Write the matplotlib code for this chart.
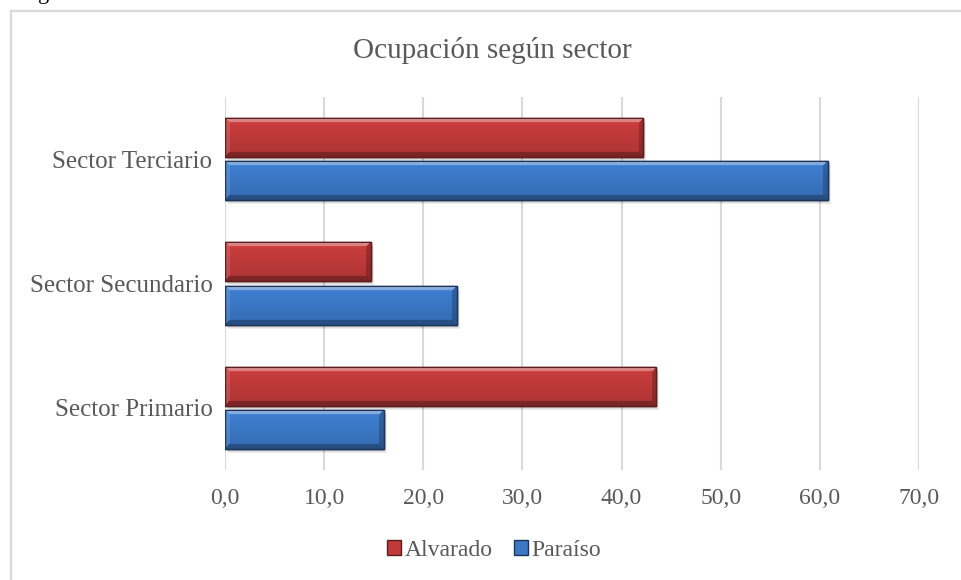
import matplotlib
matplotlib.use('Agg')
import matplotlib.pyplot as plt
import matplotlib.colors as mcolors
import numpy as np
from matplotlib.patches import Patch, Rectangle
from matplotlib.lines import Line2D
from matplotlib.transforms import offset_copy

plt.rcParams['font.family'] = ['Liberation Serif', 'DejaVu Serif']

# datos
sectores = ['Sector Primario', 'Sector Secundario', 'Sector Terciario']
series = ['Alvarado', 'Paraíso']
alvarado = [43.5, 14.7, 42.2]
paraiso = [16.0, 23.4, 60.8]
xticks = [0, 10, 20, 30, 40, 50, 60, 70]
titulo = 'Ocupación según sector'

W, H, DPI = 961, 580, 100
gray_txt = '#595959'
grid_col = '#D9D9D9'
rojo, rojo_borde = '#C03A3A', '#5E1B1B'
azul, azul_borde = '#3B78C6', '#1B3558'

fig = plt.figure(figsize=(W / DPI, H / DPI), dpi=DPI)
ax_l, ax_r, ax_t, ax_b = 225, 919, 97, 470
ax = fig.add_axes([ax_l / W, 1 - ax_b / H, (ax_r - ax_l) / W, (ax_b - ax_t) / H])
px_per_unit = (ax_r - ax_l) / (xticks[-1] - xticks[0])
px_per_cat = (ax_b - ax_t) / len(sectores)


def bevel(hexcol, w, h, b=5):
    c = np.array(mcolors.to_rgb(hexcol))
    y = np.arange(h)[:, None] * np.ones((1, w))
    x = np.ones((h, 1)) * np.arange(w)[None, :]
    shade = 1.07 - 0.17 * y / max(h - 1, 1)
    img = c[None, None, :] * shade[..., None]
    d = np.stack([y, h - 1 - y, x, w - 1 - x])
    side = d.argmin(0)
    near = d.min(0) < b
    mix = [((1, 1, 1), 0.35), ((0, 0, 0), 0.28), ((1, 1, 1), 0.12), ((0, 0, 0), 0.22)]
    for k, (col, a) in enumerate(mix):
        m = near & (side == k)
        img[m] = img[m] * (1 - a) + np.array(col) * a
    # thin bright line just below top edge
    img[1:3, 2:-2] = img[1:3, 2:-2] * 0.7 + 0.3
    return np.clip(img, 0, 1)


ypos = np.arange(len(sectores))
bh = 0.314
off = 0.175
for vals, dy, col, edge in [(alvarado, off, rojo, rojo_borde), (paraiso, -off, azul, azul_borde)]:
    bars = ax.barh(ypos + dy, vals, height=bh, color=col, edgecolor=edge, linewidth=1.0, zorder=3)
    for bar, v in zip(bars, vals):
        y0 = bar.get_y()
        # sombra
        for i, (ox, oy) in enumerate([(1, -2), (2, -3), (3, -4)]):
            tr = offset_copy(ax.transData, fig=fig, x=ox, y=oy, units='dots')
            ax.add_patch(Rectangle((0, y0), v, bh, transform=tr, color='black',
                                   alpha=0.07, lw=0, zorder=2))
        wpx = max(int(round(v * px_per_unit)), 2)
        hpx = max(int(round(bh * px_per_cat)), 2)
        im = ax.imshow(bevel(col, wpx, hpx), extent=(0, v, y0, y0 + bh), aspect='auto',
                       origin='upper', interpolation='bilinear', zorder=3.5)
        im.set_clip_path(bar)
    # outline on top
    ax.barh(ypos + dy, vals, height=bh, facecolor='none', edgecolor=edge, linewidth=1.0, zorder=4)

ax.set_xlim(xticks[0], xticks[-1])
ax.set_ylim(-0.5, len(sectores) - 0.5)
ax.set_aspect('auto')
ax.set_xticks(xticks)
ax.set_xticklabels([f'{t:.1f}'.replace('.', ',') for t in xticks])
ax.set_yticks(ypos)
ax.set_yticklabels(sectores)
ax.grid(axis='x', color=grid_col, linewidth=1.5, zorder=0)
ax.set_axisbelow(True)
for s in ax.spines.values():
    s.set_visible(False)
ax.tick_params(axis='x', length=0, pad=13, labelsize=17, labelcolor=gray_txt)
ax.tick_params(axis='y', length=0, pad=9, labelsize=18, labelcolor=gray_txt)

fig.text(492 / W, 1 - 58.5 / H, titulo, ha='center', va='baseline', fontsize=21, color=gray_txt)

handles = [Patch(facecolor=rojo, edgecolor=rojo_borde, label=series[0]),
           Patch(facecolor=azul, edgecolor=azul_borde, label=series[1])]
fig.legend(handles=handles, loc='center', bbox_to_anchor=(494 / W, 1 - 550 / H), ncol=2,
           frameon=False, fontsize=17, handlelength=0.6, handleheight=0.6,
           handletextpad=0.15, columnspacing=0.9, labelcolor=gray_txt, borderpad=0)

# borde del gráfico
fig.add_artist(Line2D([11 / W, 1], [1 - 11 / H, 1 - 11 / H], transform=fig.transFigure,
                      color=grid_col, lw=1.6))
fig.add_artist(Line2D([11 / W, 11 / W], [0, 1 - 11 / H], transform=fig.transFigure,
                      color=grid_col, lw=1.6))
# resto del texto del documento
fig.text(38 / W, 1 + 1 / H, 'g', ha='left', va='baseline', fontsize=16, color='black')

fig.savefig('out.png', dpi=DPI)
